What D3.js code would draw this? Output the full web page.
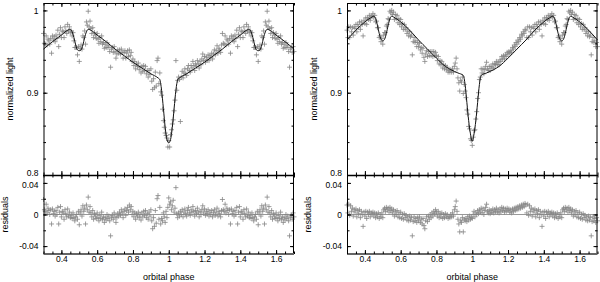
<!DOCTYPE html>
<html>
<head>
<meta charset="utf-8">
<script src="https://cdn.jsdelivr.net/npm/d3@7"></script>
<style>
  body { margin: 0; background: #fff; }
  text { font-family: "Liberation Sans", Arial, sans-serif; }
</style>
</head>
<body>
<div></div>
<script>
var outerWidth  = 600;
var outerHeight = 282;

// orbital phase of each observation, one cycle (0.3 .. 1.3); 0.3-0.7 is drawn again at 1.3-1.7
var phase = [
  0.300,0.305,0.310,0.315,0.320,0.325,0.330,0.335,0.340,0.345,0.350,0.355,0.360,0.365,0.370,0.375,0.380,0.385,0.390,0.395,
  0.400,0.405,0.410,0.415,0.420,0.425,0.430,0.435,0.440,0.445,0.450,0.455,0.460,0.465,0.470,0.475,0.480,0.485,0.490,0.495,
  0.500,0.505,0.510,0.515,0.520,0.525,0.530,0.535,0.540,0.545,0.550,0.555,0.560,0.565,0.570,0.575,0.580,0.585,0.590,0.595,
  0.600,0.605,0.610,0.615,0.620,0.625,0.630,0.635,0.640,0.645,0.650,0.655,0.660,0.665,0.670,0.675,0.680,0.685,0.690,0.695,
  0.700,0.705,0.710,0.715,0.720,0.725,0.730,0.735,0.740,0.745,0.750,0.755,0.760,0.765,0.770,0.775,0.780,0.785,0.790,0.795,
  0.800,0.805,0.810,0.815,0.820,0.825,0.830,0.835,0.840,0.845,0.850,0.855,0.860,0.865,0.870,0.875,0.880,0.885,0.890,0.895,
  0.900,0.905,0.910,0.915,0.920,0.925,0.930,0.935,0.940,0.945,0.950,0.955,0.960,0.965,0.970,0.975,0.980,0.985,0.990,0.995,
  1.000,1.005,1.010,1.015,1.020,1.025,1.030,1.035,1.040,1.045,1.050,1.055,1.060,1.065,1.070,1.075,1.080,1.085,1.090,1.095,
  1.100,1.105,1.110,1.115,1.120,1.125,1.130,1.135,1.140,1.145,1.150,1.155,1.160,1.165,1.170,1.175,1.180,1.185,1.190,1.195,
  1.200,1.205,1.210,1.215,1.220,1.225,1.230,1.235,1.240,1.245,1.250,1.255,1.260,1.265,1.270,1.275,1.280,1.285,1.290,1.295
];

// left panel: normalized light and residuals
var lightA = [
  .972,.960,.959,.969,.958,.965,.963,.959,.966,.948,.969,.964,.968,.962,.970,.966,.976,.956,.971,.979,
  .967,.975,.974,.967,.980,.975,.972,.983,.975,.980,.973,.975,.969,.973,.963,.955,.955,.955,.946,.956,
  .938,.954,.958,.953,.969,.967,.975,.959,.986,.982,.999,.980,.987,.978,.972,.979,.967,.973,.970,.966,
  .972,.965,.960,.967,.962,.969,.959,.961,.954,.959,.955,.961,.955,.957,.950,.931,.953,.955,.949,.956,
  .950,.942,.947,.952,.948,.952,.947,.953,.949,.942,.949,.951,.942,.948,.951,.944,.952,.945,.949,.938,
  .941,.933,.938,.929,.935,.932,.936,.928,.931,.924,.932,.926,.933,.927,.932,.923,.927,.919,.927,.922,
  .929,.914,.904,.917,.906,.925,.908,.939,.942,.911,.924,.901,.897,.880,.866,.858,.851,.848,.845,.834,
  .842,.834,.849,.855,.862,.867,.878,.891,.939,.903,.915,.919,.916,.865,.919,.926,.918,.924,.929,.923,
  .921,.929,.933,.927,.925,.933,.930,.938,.933,.927,.935,.932,.939,.935,.930,.938,.934,.941,.947,.939,
  .944,.937,.943,.940,.946,.939,.945,.943,.948,.941,.947,.952,.946,.951,.957,.948,.954,.952,.949,.958
];
var residA = [
  .019,.006,.004,.013,.002,.008,.005,0,.006,-.012,.007,.001,.004,-.002,.005,0,.009,-.012,.003,.010,
  -.003,.004,.002,-.006,.006,.001,-.003,.007,-.002,.003,-.004,-.001,-.005,.002,-.004,-.008,-.003,0,-.006,.004,
  -.013,.002,.006,-.002,.011,.004,.008,-.012,.012,.006,.022,.003,.010,.002,-.003,.005,-.006,.001,-.002,-.005,
  .002,-.004,-.008,-.001,-.005,.003,-.006,-.003,-.010,-.004,-.007,0,-.005,-.002,-.008,-.027,-.004,-.001,-.006,.002,
  -.003,-.010,-.004,.001,-.002,.003,-.001,.006,.002,-.004,.004,.007,-.001,.005,.009,.003,.012,.006,.010,0,
  .004,-.003,.002,-.006,.001,-.002,.003,-.004,0,-.007,.002,-.003,.004,-.001,.005,-.004,.001,-.006,.003,-.002,
  .006,-.008,-.018,-.004,-.015,.005,-.011,.020,.024,-.006,.009,-.012,-.005,-.008,.002,-.003,-.010,.004,-.004,.009,
  .021,.013,.016,.006,.011,.018,.003,.008,.034,.001,-.004,.002,-.002,.004,0,.006,-.003,.003,.007,.001,
  -.002,.005,.009,.002,-.001,.006,.003,.010,.004,-.002,.005,.001,.008,.003,-.003,.004,0,.006,.011,.002,
  .007,-.001,.004,.001,.006,-.002,.003,0,.005,-.003,.002,.006,-.001,.003,.008,-.002,.004,.001,-.003,.005
];

// right panel: normalized light and residuals
var lightB = [
  .976,.967,.980,.967,.980,.974,.979,.970,.980,.978,.983,.974,.983,.980,.986,.977,.986,.983,.969,.988,
  .984,.991,.983,.991,.989,.994,.988,.993,.993,.996,.991,.994,.986,.987,.979,.979,.967,.969,.962,.966,
  .959,.970,.973,.973,.981,.983,.990,.989,.999,.997,1.000,.995,.998,.989,.995,.990,.994,.985,.990,.983,
  .989,.980,.984,.977,.983,.977,.979,.972,.975,.969,.974,.968,.970,.946,.962,.967,.961,.963,.956,.961,
  .956,.960,.952,.955,.948,.954,.943,.938,.947,.951,.944,.950,.945,.950,.945,.950,.944,.950,.945,.949,
  .945,.939,.944,.935,.939,.934,.938,.930,.934,.929,.933,.928,.931,.925,.927,.925,.928,.925,.929,.925,
  .932,.936,.942,.929,.918,.912,.902,.915,.913,.919,.899,.910,.902,.894,.879,.874,.859,.856,.844,.842,
  .836,.846,.854,.855,.868,.877,.893,.900,.916,.919,.929,.924,.929,.923,.928,.932,.937,.929,.927,.932,
  .927,.932,.930,.935,.930,.935,.934,.938,.934,.937,.934,.940,.938,.944,.941,.945,.941,.946,.944,.949,
  .947,.950,.948,.951,.949,.955,.953,.958,.956,.961,.959,.964,.962,.967,.965,.971,.969,.974,.972,.977
];
var residB = [
  .012,.002,.013,-.001,.011,.004,.008,-.002,.006,.003,.007,-.003,.005,.001,.006,-.004,.004,0,-.015,.003,
  -.002,.004,-.005,.003,0,.004,-.003,.002,.001,.003,-.002,.002,-.004,.001,-.003,.002,-.005,0,-.003,.002,
  -.004,.006,.008,.004,.009,.006,.008,.003,.009,.005,.007,.002,.006,-.002,.004,0,.005,-.003,.002,-.004,
  .003,-.005,0,-.006,.001,-.004,-.001,-.007,-.003,-.008,-.002,-.007,-.004,-.027,-.009,-.003,-.008,-.005,-.010,-.004,
  -.008,-.003,-.010,-.006,-.012,-.005,-.014,-.018,-.008,-.003,-.009,-.002,-.006,0,-.004,.002,-.002,.004,.001,.006,
  .003,-.002,.004,-.004,.001,-.003,.002,-.005,0,-.004,.001,-.003,0,-.005,-.002,-.004,0,-.003,.002,-.002,
  .006,.010,.017,.004,-.006,-.012,-.022,-.008,-.010,-.004,-.022,-.006,-.008,-.005,-.009,-.003,-.007,-.002,-.006,-.004,
  -.005,0,.004,-.003,.002,0,.005,.001,.006,.003,.008,.002,.007,0,.005,.009,.013,.004,.002,.006,
  .001,.005,.003,.007,.002,.006,.004,.008,.003,.006,.002,.007,.004,.009,.005,.008,.003,.007,.004,.008,
  .005,.007,.003,.006,.002,.007,.004,.008,.005,.009,.006,.010,.007,.011,.008,.012,.009,.013,.010,.014
];

// model light curves, one cycle
var modelPhaseA = [0.30,0.35,0.40,0.44,0.45,0.46,0.47,0.48,0.49,0.50,0.51,0.52,0.53,0.54,0.55,0.56,0.60,0.65,0.70,0.75,
                   0.80,0.85,0.90,0.94,0.95,0.955,0.96,0.97,0.98,0.99,1.00,1.01,1.02,1.03,1.04,1.045,1.05,1.06,1.10,1.15,1.20,1.25,1.30];
var modelA      = [.953,.962,.970,.9765,.977,.974,.967,.958,.952,.951,.952,.958,.967,.974,.977,.9765,.970,.962,.953,.945,
                   .937,.930,.923,.918,.916,.911,.903,.881,.858,.843,.839,.843,.858,.881,.903,.911,.916,.918,.923,.930,.937,.945,.953];
var modelPhaseB = [0.30,0.35,0.40,0.44,0.45,0.46,0.47,0.48,0.49,0.50,0.51,0.52,0.53,0.54,0.55,0.56,0.60,0.65,0.70,0.75,
                   0.80,0.85,0.88,0.92,0.95,0.955,0.96,0.97,0.98,0.99,1.00,1.01,1.02,1.03,1.04,1.045,1.05,1.08,1.12,1.15,1.20,1.25,1.30];
var modelB      = [.964,.976,.986,.992,.993,.990,.982,.972,.965,.963,.965,.972,.982,.990,.993,.992,.986,.976,.964,.953,
                   .942,.932,.928,.924,.921,.917,.910,.888,.866,.850,.841,.850,.866,.888,.910,.917,.921,.924,.928,.932,.942,.953,.964];

var xTicks     = [0.4, 0.6, 0.8, 1, 1.2, 1.4, 1.6];
var lightTicks = [0.8, 0.9, 1];
var residTicks = [-0.04, 0, 0.04];

var plotWidth = 250.5;
var topY = 3, midY = 175, botY = 254;

var svg = d3.select("div").append("svg")
  .attr("width", outerWidth)
  .attr("height", outerHeight);

var panels = [
  { left: 43.5, light: lightA, resid: residA, mp: modelPhaseA, mv: modelA },
  { left: 347,  light: lightB, resid: residB, mp: modelPhaseB, mv: modelB }
];

// each observation drawn at its phase, and once more a cycle later if that still fits
function unfold(ys) {
  var out = [];
  phase.forEach(function (p, i) {
    out.push([p, ys[i]]);
    if (p + 1 <= 1.7) out.push([p + 1, ys[i]]);
  });
  return out;
}
function unfoldModel(ps, vs) {
  var out = [];
  ps.forEach(function (p, i) { out.push([p, vs[i]]); });
  ps.forEach(function (p, i) { if (p > 0.3 && p + 1 <= 1.7) out.push([p + 1, vs[i]]); });
  return out.sort(function (a, b) { return a[0] - b[0]; });
}

var plus = "M-2.5,0H2.5M0,-2.5V2.5";
var fmt = function (d) { return String(d); };

function styleAxis(g) {
  g.select(".domain").remove();
  g.selectAll("line").attr("stroke", "#000");
  g.selectAll("text").attr("font-size", "8.5px").attr("fill", "#000")
    .attr("font-family", "Liberation Sans, Arial, sans-serif");
}

function render(pn) {
  var x = d3.scaleLinear().domain([0.3, 1.7]).range([pn.left, pn.left + plotWidth]);
  var yL = d3.scaleLinear().domain([0.8, 1.009]).range([midY, topY]);
  var yR = d3.scaleLinear().domain([-0.05, 0.05]).range([botY, midY]);
  var x1 = pn.left + plotWidth;

  var g = svg.append("g");

  // zero line of the residuals
  g.append("line")
    .attr("x1", pn.left).attr("x2", x1)
    .attr("y1", yR(0)).attr("y2", yR(0))
    .attr("stroke", "#999").attr("stroke-width", 1);

  // observations
  g.selectAll(".pl").data(unfold(pn.light)).enter().append("path")
    .attr("d", plus)
    .attr("transform", function (d) { return "translate(" + x(d[0]) + "," + yL(d[1]) + ")"; })
    .attr("stroke", "#858585").attr("stroke-width", 0.8).attr("fill", "none");

  g.selectAll(".pr").data(unfold(pn.resid)).enter().append("path")
    .attr("d", plus)
    .attr("transform", function (d) { return "translate(" + x(d[0]) + "," + yR(d[1]) + ")"; })
    .attr("stroke", "#858585").attr("stroke-width", 0.8).attr("fill", "none");

  // model
  var line = d3.line()
    .x(function (d) { return x(d[0]); })
    .y(function (d) { return yL(d[1]); })
    .curve(d3.curveMonotoneX);
  g.append("path")
    .attr("d", line(unfoldModel(pn.mp, pn.mv)))
    .attr("fill", "none").attr("stroke", "#111").attr("stroke-width", 1);

  // frames
  g.append("rect")
    .attr("x", pn.left + 0.5).attr("y", topY + 0.5)
    .attr("width", plotWidth - 1).attr("height", midY - topY)
    .attr("fill", "none").attr("stroke", "#000").attr("stroke-width", 1);
  g.append("line")
    .attr("x1", pn.left + 0.5).attr("x2", pn.left + 0.5).attr("y1", midY).attr("y2", botY)
    .attr("stroke", "#000");
  g.append("line")
    .attr("x1", x1 - 0.5).attr("x2", x1 - 0.5).attr("y1", midY).attr("y2", botY)
    .attr("stroke", "#000");
  g.append("line")
    .attr("x1", pn.left).attr("x2", x1).attr("y1", midY + 0.5).attr("y2", midY + 0.5)
    .attr("stroke", "#000").attr("stroke-width", 1.5);
  g.append("line")
    .attr("x1", pn.left).attr("x2", x1).attr("y1", botY).attr("y2", botY)
    .attr("stroke", "#666").attr("stroke-width", 2);

  var minorX = d3.range(0.3, 1.7001, 0.05);

  // x ticks on every horizontal border, pointing inwards
  [[d3.axisTop, topY], [d3.axisBottom, midY], [d3.axisTop, midY], [d3.axisBottom, botY]].forEach(function (a) {
    g.append("g").attr("transform", "translate(0," + a[1] + ")")
      .call(a[0](x).tickValues(minorX).tickFormat("").tickSizeInner(-2.5).tickSizeOuter(0))
      .call(styleAxis);
    g.append("g").attr("transform", "translate(0," + a[1] + ")")
      .call(a[0](x).tickValues(xTicks).tickFormat(a[1] === botY ? fmt : "").tickSizeInner(-4).tickSizeOuter(0).tickPadding(2))
      .call(styleAxis);
  });

  // y ticks, light curve
  var minorL = d3.range(0.8, 1.0001, 0.02);
  g.append("g").attr("transform", "translate(" + pn.left + ",0)")
    .call(d3.axisLeft(yL).tickValues(minorL).tickFormat("").tickSizeInner(-2.5).tickSizeOuter(0)).call(styleAxis);
  g.append("g").attr("transform", "translate(" + x1 + ",0)")
    .call(d3.axisRight(yL).tickValues(minorL).tickFormat("").tickSizeInner(-2.5).tickSizeOuter(0)).call(styleAxis);
  g.append("g").attr("transform", "translate(" + pn.left + ",0)")
    .call(d3.axisLeft(yL).tickValues(lightTicks).tickFormat(fmt).tickSizeInner(-4).tickSizeOuter(0).tickPadding(5)).call(styleAxis)
    .selectAll("text").attr("dy", function (d) { return d === 0.8 ? "0.1em" : "0.32em"; });
  g.append("g").attr("transform", "translate(" + x1 + ",0)")
    .call(d3.axisRight(yL).tickValues(lightTicks).tickFormat("").tickSizeInner(-4).tickSizeOuter(0)).call(styleAxis);

  // y ticks, residuals
  var minorR = [-0.04, -0.02, 0, 0.02, 0.04];
  g.append("g").attr("transform", "translate(" + pn.left + ",0)")
    .call(d3.axisLeft(yR).tickValues(minorR).tickFormat("").tickSizeInner(-2.5).tickSizeOuter(0)).call(styleAxis);
  g.append("g").attr("transform", "translate(" + x1 + ",0)")
    .call(d3.axisRight(yR).tickValues(minorR).tickFormat("").tickSizeInner(-2.5).tickSizeOuter(0)).call(styleAxis);
  g.append("g").attr("transform", "translate(" + pn.left + ",0)")
    .call(d3.axisLeft(yR).tickValues(residTicks).tickFormat(fmt).tickSizeInner(-4).tickSizeOuter(0).tickPadding(5)).call(styleAxis)
    .selectAll("text").attr("dy", function (d) { return d === 0.04 ? "0.5em" : "0.32em"; });
  g.append("g").attr("transform", "translate(" + x1 + ",0)")
    .call(d3.axisRight(yR).tickValues(residTicks).tickFormat("").tickSizeInner(-4).tickSizeOuter(0)).call(styleAxis);

  // axis titles
  g.append("text")
    .attr("transform", "translate(" + (pn.left - 30.5) + "," + ((topY + midY) / 2) + ") rotate(-90)")
    .attr("text-anchor", "middle").attr("font-size", "9px").attr("fill", "#000")
    .text("normalized light");
  g.append("text")
    .attr("transform", "translate(" + (pn.left - 36) + "," + yR(0) + ") rotate(-90)")
    .attr("text-anchor", "middle").attr("font-size", "9px").attr("fill", "#000")
    .text("residuals");
  g.append("text")
    .attr("x", x(1)).attr("y", 279.5)
    .attr("text-anchor", "middle").attr("font-size", "9px").attr("fill", "#000")
    .text("orbital phase");
}

panels.forEach(render);
</script>
</body>
</html>
